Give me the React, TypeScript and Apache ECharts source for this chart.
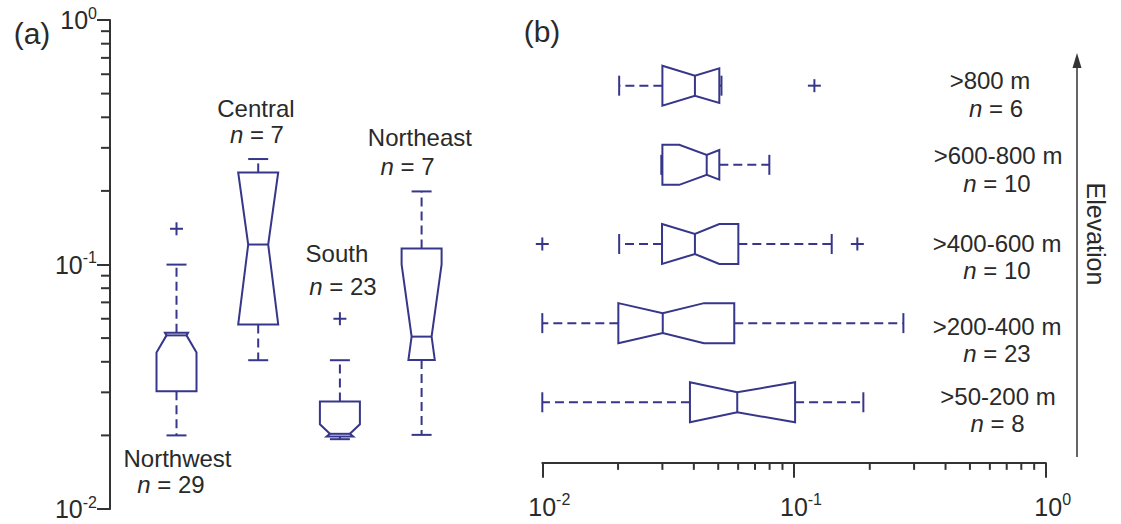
import React, { useEffect, useRef } from "react";
import * as echarts from "echarts";

// ---------------- data: panel (a) by region ----------------
const regions = ["Northwest", "Central", "South", "Northeast"];
const regionN = [29, 7, 23, 7];
const regionMin = [0.02, 0.0406, 0.0193, 0.0201];
const regionQ1 = [0.0303, 0.0569, 0.0198, 0.0407];
const regionMedian = [0.0513, 0.1207, 0.0203, 0.0507];
const regionQ3 = [0.0526, 0.238, 0.0275, 0.1162];
const regionMax = [0.0999, 0.27, 0.0406, 0.199];
const regionNotchLow = [0.0437, 0.0569, 0.0188, 0.0254];
const regionNotchHigh = [0.0603, 0.238, 0.0222, 0.1];
const regionOutliers = [[0.14], [], [0.06], []];

// ---------------- data: panel (b) by elevation ----------------
const elevBands = [">800 m", ">600-800 m", ">400-600 m", ">200-400 m", ">50-200 m"];
const elevN = [6, 10, 10, 23, 8];
const elevMin = [0.0202, 0.0297, 0.0202, 0.01, 0.01];
const elevQ1 = [0.03, 0.03, 0.0299, 0.02005, 0.0386];
const elevMedian = [0.0404, 0.045, 0.0404, 0.0301, 0.0595];
const elevQ3 = [0.0505, 0.0505, 0.0601, 0.0579, 0.101];
const elevMax = [0.0515, 0.0798, 0.1412, 0.272, 0.1886];
const elevNotchLow = [0.03, 0.035, 0.0299, 0.02005, 0.0386];
const elevNotchHigh = [0.0549, 0.0571, 0.0505, 0.0439, 0.101];
const elevOutliers = [[0.1205], [], [0.01, 0.1785], [], []];

// ---------------- axis ticks ----------------
const majorTicks = [0.01, 0.1, 1];
const minorTicks = [0.02, 0.03, 0.04, 0.05, 0.06, 0.07, 0.08, 0.09, 0.2, 0.3, 0.4, 0.5, 0.6, 0.7, 0.8, 0.9];

// ---------------- styling / layout ----------------
const FONT = "'Liberation Sans', Arial, Helvetica, sans-serif";
const INK = "#2a2a2a";
const AXIS = "#333333";
const BOX = "#36368a";
const HALF = 20; // half box thickness (px)
const CAP = 10; // half cap length (px)

const A_AXIS_X = 110;
const A_BAND = 81.7;
const A_FIRST = 176.5;
const A_LEFT = A_FIRST - A_BAND / 2;
const B_LEFT = 542.3;
const B_WIDTH = 503.4;
const B_TOP = 46.1;
const B_HEIGHT = 395.75;
const B_AXIS_OFFSET = 21;

const supLabel = (v: number) => `{b|10}{s|${Math.round(Math.log10(v))}}`;
const labelRich = {
  b: { fontSize: 25, fontFamily: FONT, color: INK, lineHeight: 30 },
  s: { fontSize: 16, fontFamily: FONT, color: INK, lineHeight: 16, verticalAlign: "top" },
};

function makeBoxRenderer(horizontal: boolean) {
  return (params: any, api: any) => {
    const cat = api.value(0);
    const vMin = api.value(1), q1 = api.value(2), med = api.value(3), q3 = api.value(4);
    const vMax = api.value(5), nlo = api.value(6), nhi = api.value(7);
    const along = (v: number) =>
      horizontal ? api.coord([v, cat])[0] : api.coord([cat, v])[1];
    const c0 = horizontal ? api.coord([q1, cat])[1] : api.coord([cat, q1])[0];
    const pt = (a: number, c: number) => (horizontal ? [a, c] : [c, a]);
    const aMin = along(vMin), aQ1 = along(q1), aMed = along(med), aQ3 = along(q3);
    const aMax = along(vMax), aLo = along(nlo), aHi = along(nhi);
    const nd = HALF / 2;
    const side = (s: number) => {
      const outer = c0 + s * HALF;
      const inner = c0 + s * (HALF - nd);
      const pts: number[][] = [];
      if (nlo > q1) {
        pts.push(pt(aQ1, outer), pt(aLo, outer));
      } else {
        const d = aLo - aMed;
        const t = Math.abs(d) < 1e-6 ? 1 : (aQ1 - aMed) / d;
        pts.push(pt(aQ1, inner + (outer - inner) * t));
      }
      pts.push(pt(aMed, inner));
      if (nhi < q3) {
        pts.push(pt(aHi, outer), pt(aQ3, outer));
      } else {
        const d = aHi - aMed;
        const t = Math.abs(d) < 1e-6 ? 1 : (aQ3 - aMed) / d;
        pts.push(pt(aQ3, inner + (outer - inner) * t));
      }
      return pts;
    };
    const left = side(-1);
    const right = side(1).reverse();
    const lineStyle = { stroke: BOX, lineWidth: 2, fill: "none" };
    const dashStyle = { stroke: BOX, lineWidth: 2, lineDash: [9, 5], fill: "none" };
    const seg = (a1: number, c1: number, a2: number, c2: number, style: any) => {
      const p1 = pt(a1, c1), p2 = pt(a2, c2);
      return { type: "line", shape: { x1: p1[0], y1: p1[1], x2: p2[0], y2: p2[1] }, style };
    };
    const children: any[] = [];
    if (vMax > q3) children.push(seg(aQ3, c0, aMax, c0, dashStyle));
    if (vMin < q1) children.push(seg(aQ1, c0, aMin, c0, dashStyle));
    children.push(seg(aMax, c0 - CAP, aMax, c0 + CAP, lineStyle));
    children.push(seg(aMin, c0 - CAP, aMin, c0 + CAP, lineStyle));
    children.push({ type: "polygon", shape: { points: [...left, ...right] }, style: { stroke: BOX, lineWidth: 2, fill: "#ffffff" } });
    children.push(seg(aMed, c0 - (HALF - nd), aMed, c0 + (HALF - nd), lineStyle));
    return { type: "group", children };
  };
}

const plusRenderer = (horizontal: boolean) => (params: any, api: any) => {
  const c = api.coord([api.value(0), api.value(1)]);
  const h = 6.5;
  const st = { stroke: BOX, lineWidth: 2 };
  return {
    type: "group",
    children: [
      { type: "line", shape: { x1: c[0] - h, y1: c[1], x2: c[0] + h, y2: c[1] }, style: st },
      { type: "line", shape: { x1: c[0], y1: c[1] - h, x2: c[0], y2: c[1] + h }, style: st },
    ],
  };
};

function buildOption() {
  const regionRows = regions.map((_, i) => [i, regionMin[i], regionQ1[i], regionMedian[i], regionQ3[i], regionMax[i], regionNotchLow[i], regionNotchHigh[i]]);
  const elevRows = elevBands.map((_, i) => [i, elevMin[i], elevQ1[i], elevMedian[i], elevQ3[i], elevMax[i], elevNotchLow[i], elevNotchHigh[i]]);
  const regionOut: number[][] = [];
  regionOutliers.forEach((arr, i) => arr.forEach((v) => regionOut.push([i, v])));
  const elevOut: number[][] = [];
  elevOutliers.forEach((arr, i) => arr.forEach((v) => elevOut.push([v, i])));

  const txtStyle = (text: string, x: number, y: number, size = 24) => ({
    type: "text",
    x,
    y,
    style: {
      text,
      fill: INK,
      fontSize: size,
      fontFamily: FONT,
      align: "center",
      verticalAlign: "middle",
      rich: { i: { fontStyle: "italic", fontSize: size, fontFamily: FONT, fill: INK } },
    },
  });
  const nText = (n: number) => `{i|n} = ${n}`;
  const ax = (i: number) => A_FIRST + A_BAND * i;

  // annotation placement (px offsets from each box centre / fixed rows)
  const regionLabelPos = [
    { dx: 1, y: 458, ndx: -5.5, ny: 484 },
    { dx: -2.3, y: 108, ndx: -1.3, ny: 134 },
    { dx: -3, y: 253, ndx: 3, ny: 286 },
    { dx: -1.7, y: 137, ndx: -14, ny: 166 },
  ];
  const elevLabelPos = [
    { x: 990, y: 80.7, nx: 996, ny: 108.3 },
    { x: 998, y: 155, nx: 997, ny: 183.3 },
    { x: 997, y: 243.3, nx: 997, ny: 270 },
    { x: 997, y: 326.7, nx: 997, ny: 353.3 },
    { x: 998, y: 396.7, nx: 997.5, ny: 423.3 },
  ];

  const graphics: any[] = [];
  regions.forEach((name, i) => {
    const p = regionLabelPos[i];
    graphics.push(txtStyle(name, ax(i) + p.dx, p.y));
    graphics.push(txtStyle(nText(regionN[i]), ax(i) + p.ndx, p.ny));
  });
  elevBands.forEach((name, i) => {
    const p = elevLabelPos[i];
    graphics.push(txtStyle(name, p.x, p.y));
    graphics.push(txtStyle(nText(elevN[i]), p.nx, p.ny));
  });
  graphics.push(txtStyle("(a)", 32, 33, 30));
  graphics.push(txtStyle("(b)", 542, 31, 30));
  graphics.push({ type: "line", shape: { x1: 1077, y1: 457, x2: 1077, y2: 66 }, style: { stroke: AXIS, lineWidth: 1.5 } });
  graphics.push({ type: "polygon", shape: { points: [[1077, 53], [1072.5, 68], [1081.5, 68]] }, style: { fill: AXIS } });
  graphics.push({
    type: "text",
    x: 1096,
    y: 234,
    rotation: -Math.PI / 2,
    style: { text: "Elevation", fill: INK, fontSize: 25, fontFamily: FONT, align: "center", verticalAlign: "middle" },
  });

  return {
    animation: false,
    backgroundColor: "#ffffff",
    textStyle: { fontFamily: FONT },
    grid: [
      { left: A_LEFT, top: 20, width: A_BAND * 4, height: 489 },
      { left: B_LEFT, top: B_TOP, width: B_WIDTH, height: B_HEIGHT },
    ],
    xAxis: [
      { type: "category", gridIndex: 0, data: regions, show: false },
      {
        type: "log",
        gridIndex: 1,
        logBase: 10,
        min: 0.01,
        max: 1,
        offset: B_AXIS_OFFSET,
        splitLine: { show: false },
        axisLine: { show: true, onZero: false, lineStyle: { color: AXIS, width: 2 } },
        axisTick: { show: true, length: 15, lineStyle: { color: AXIS, width: 2 } },
        axisLabel: { margin: 29, formatter: supLabel, rich: labelRich, padding: [0, 0, 0, 14] },
      },
    ],
    yAxis: [
      {
        type: "log",
        gridIndex: 0,
        logBase: 10,
        min: 0.01,
        max: 1,
        offset: A_LEFT - A_AXIS_X,
        splitLine: { show: false },
        axisLine: { show: true, onZero: false, lineStyle: { color: AXIS, width: 2 } },
        axisTick: { show: true, length: 13, lineStyle: { color: AXIS, width: 2 } },
        axisLabel: { margin: 13, formatter: supLabel, rich: labelRich },
      },
      { type: "category", gridIndex: 1, data: elevBands, inverse: true, show: false },
    ],
    series: [
      {
        type: "custom",
        name: "minorA",
        xAxisIndex: 0,
        yAxisIndex: 0,
        clip: false,
        silent: true,
        data: minorTicks.map((v) => [0, v]),
        encode: { x: 0, y: 1 },
        renderItem: (params: any, api: any) => {
          const y = api.coord([0, api.value(1)])[1];
          const x = A_AXIS_X;
          return { type: "line", shape: { x1: x - 9, y1: y, x2: x, y2: y }, style: { stroke: AXIS, lineWidth: 2 } };
        },
      },
      {
        type: "custom",
        name: "minorB",
        xAxisIndex: 1,
        yAxisIndex: 1,
        clip: false,
        silent: true,
        data: minorTicks.map((v) => [v, 0]),
        encode: { x: 0, y: 1 },
        renderItem: (params: any, api: any) => {
          const x = api.coord([api.value(0), 0])[0];
          const y = params.coordSys.y + params.coordSys.height + B_AXIS_OFFSET;
          return { type: "line", shape: { x1: x, y1: y, x2: x, y2: y + 7 }, style: { stroke: AXIS, lineWidth: 2 } };
        },
      },
      {
        type: "custom",
        name: "Regions",
        xAxisIndex: 0,
        yAxisIndex: 0,
        clip: false,
        data: regionRows,
        encode: { x: 0, y: [1, 2, 3, 4, 5, 6, 7] },
        renderItem: makeBoxRenderer(false),
      },
      {
        type: "custom",
        name: "Region outliers",
        xAxisIndex: 0,
        yAxisIndex: 0,
        clip: false,
        data: regionOut,
        encode: { x: 0, y: 1 },
        renderItem: plusRenderer(false),
      },
      {
        type: "custom",
        name: "Elevation",
        xAxisIndex: 1,
        yAxisIndex: 1,
        clip: false,
        data: elevRows,
        encode: { y: 0, x: [1, 2, 3, 4, 5, 6, 7] },
        renderItem: makeBoxRenderer(true),
      },
      {
        type: "custom",
        name: "Elevation outliers",
        xAxisIndex: 1,
        yAxisIndex: 1,
        clip: false,
        data: elevOut,
        encode: { x: 0, y: 1 },
        renderItem: plusRenderer(true),
      },
    ],
    graphic: graphics,
  };
}

export default function App() {
  const ref = useRef<HTMLDivElement>(null);
  useEffect(() => {
    if (!ref.current) return;
    const chart = echarts.init(ref.current, null, { renderer: "svg" });
    chart.setOption(buildOption() as any);
    return () => chart.dispose();
  }, []);
  return (
    <div
      ref={ref}
      style={{ position: "absolute", left: 0, top: 0, width: 1121, height: 524, background: "#ffffff" }}
    />
  );
}
